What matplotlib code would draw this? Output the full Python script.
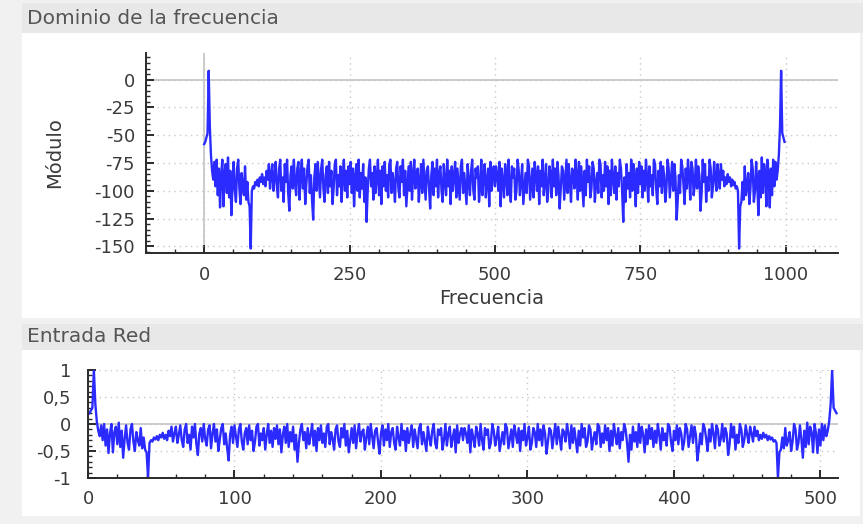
import numpy as np
import matplotlib
matplotlib.use("Agg")
import matplotlib.pyplot as plt
from matplotlib.patches import Rectangle
from matplotlib.ticker import MultipleLocator, FuncFormatter

plt.rcParams['font.family'] = ['DejaVu Sans']
plt.rcParams['axes.unicode_minus'] = False

W, H = 863, 524

# modulo del espectro (dB), 512 muestras
modulo = [
    -58, -56, -52, -48, 8, -42, -68, -82, -90, -74, -96, -72, -104, -80, -115, -86,
    -72, -114, -84, -76, -102, -70, -106, -82, -122, -94, -74, -100, -110, -80, -72, -98,
    -112, -84, -96, -104, -78, -108, -92, -110, -114, -152, -100, -96, -98, -92, -95, -90,
    -96, -88, -92, -85, -94, -88, -96, -82, -90, -76, -98, -86, -76, -100, -88, -74,
    -96, -106, -80, -72, -100, -88, -110, -76, -92, -72, -102, -118, -86, -78, -98, -72,
    -94, -104, -80, -74, -108, -86, -72, -98, -80, -112, -94, -78, -72, -102, -86, -108,
    -126, -88, -76, -100, -74, -90, -106, -80, -72, -98, -110, -86, -78, -102, -74, -96,
    -82, -112, -98, -76, -72, -104, -86, -96, -78, -110, -88, -72, -100, -82, -106, -78,
    -94, -74, -102, -80, -114, -88, -76, -100, -72, -106, -84, -98, -76, -110, -88, -128,
    -100, -80, -72, -96, -84, -108, -78, -102, -88, -72, -104, -82, -112, -78, -96, -74,
    -100, -86, -106, -76, -72, -102, -84, -94, -110, -80, -74, -98, -106, -78, -92, -72,
    -104, -82, -114, -96, -78, -100, -74, -108, -86, -72, -98, -84, -80, -110, -92, -76,
    -102, -72, -90, -108, -82, -78, -98, -116, -86, -74, -104, -80, -96, -72, -106, -84,
    -78, -100, -110, -76, -92, -104, -72, -96, -82, -112, -78, -100, -86, -74, -106, -80,
    -94, -108, -78, -72, -102, -84, -98, -112, -76, -92, -104, -82, -72, -100, -108, -80,
    -88, -78, -110, -96, -72, -104, -86, -76, -106, -92, -80, -114, -74, -100, -86, -78,
    -96,
    -78, -86, -100, -74, -114, -80, -92, -106, -76, -86, -104, -72, -96, -110, -78, -88,
    -80, -108, -100, -72, -82, -104, -92, -76, -112, -98, -84, -102, -72, -78, -108, -94,
    -80, -106, -74, -86, -100, -78, -112, -82, -96, -72, -104, -92, -76, -110, -100, -78,
    -84, -106, -72, -96, -80, -104, -74, -86, -116, -98, -78, -82, -108, -90, -72, -102,
    -76, -92, -110, -80, -84, -98, -72, -86, -108, -74, -100, -78, -96, -114, -82, -104,
    -72, -92, -78, -106, -98, -74, -80, -110, -94, -84, -102, -72, -76, -106, -86, -100,
    -74, -96, -78, -112, -82, -104, -72, -88, -102, -78, -108, -84, -96, -72, -80, -100,
    -128, -88, -110, -76, -98, -84, -106, -72, -100, -76, -88, -114, -80, -102, -74, -94,
    -78, -106, -82, -100, -72, -88, -110, -78, -96, -86, -104, -72, -76, -98, -112, -82,
    -96, -74, -102, -78, -86, -110, -98, -72, -80, -106, -90, -74, -100, -76, -88, -126,
    -108, -86, -102, -72, -78, -94, -112, -80, -98, -72, -86, -108, -74, -80, -104, -94,
    -72, -98, -78, -86, -118, -102, -72, -92, -76, -110, -88, -100, -72, -80, -106, -96,
    -74, -88, -100, -76, -86, -98, -76, -90, -82, -96, -88, -94, -85, -92, -88, -96,
    -90, -95, -92, -98, -96, -100, -152, -114, -110, -92, -108, -78, -104, -96, -84, -112,
    -98, -72, -80, -110, -100, -74, -94, -122, -82, -106, -70, -102, -76, -84, -114, -72,
    -86, -115, -80, -104, -72, -96, -74, -90, -82, -68, -42, 8, -48, -52, -56,
]
fs = 1000

titulo_frecuencia = "Dominio de la frecuencia"
titulo_entrada = "Entrada Red"
xlabel_frecuencia = "Frecuencia"
ylabel_modulo = "Módulo"

m = np.array(modulo, dtype=float)
n = len(m)
frecuencia = np.arange(n) * fs / n
# entrada a la red: espectro normalizado a [-1, 1]
entrada_red = 2 * (m - m.min()) / (m.max() - m.min()) - 1
muestra = np.arange(n)


def box(x0, y0, x1, y1):
    return [x0 / W, 1 - y1 / H, (x1 - x0) / W, (y1 - y0) / H]


fig = plt.figure(figsize=(W / 100, H / 100), dpi=100, facecolor='#f1f1f1')

# fondos de los paneles y barras de titulo
for (x0, y0, x1, y1), c in [((22, 3, 863, 33), '#e8e8e8'),
                            ((22, 33, 860, 318), 'white'),
                            ((22, 324, 863, 350), '#e8e8e8'),
                            ((22, 350, 860, 516), 'white')]:
    l, b, w, h = box(x0, y0, x1, y1)
    fig.add_artist(Rectangle((l, b), w, h, transform=fig.transFigure,
                             facecolor=c, edgecolor='none', zorder=-5))

fig.text(27 / W, 1 - 18 / H, titulo_frecuencia, fontsize=14.5, color='#555555',
         ha='left', va='center')
fig.text(27 / W, 1 - 336 / H, titulo_entrada, fontsize=14.5, color='#555555',
         ha='left', va='center')

LINE = '#2b2bff'
SPINE = '#2a2a2a'


def style(ax):
    ax.set_facecolor('none')
    for s in ['top', 'right']:
        ax.spines[s].set_visible(False)
    for s in ['left', 'bottom']:
        ax.spines[s].set_color(SPINE)
        ax.spines[s].set_linewidth(1.4)
    ax.tick_params(which='both', direction='in', colors=SPINE, labelcolor='#3a3a3a',
                   labelsize=13)
    ax.tick_params(which='major', length=6, width=1.4)
    ax.tick_params(which='minor', length=3, width=1.0)
    ax.grid(True, which='major', color='#c8c8c8', linestyle=(0, (1, 3)), linewidth=1)
    ax.set_axisbelow(True)


# panel superior
ax1 = fig.add_axes(box(146, 53, 838, 253))
style(ax1)
ax1.axhline(0, color='#c4c4c4', lw=1.2, zorder=0)
ax1.axvline(0, color='#c4c4c4', lw=1.2, zorder=0)
ax1.plot(frecuencia, m, color=LINE, lw=1.7)
ax1.set_xlim(-100, 1090)
ax1.set_ylim(-156, 24)
ax1.xaxis.set_major_locator(MultipleLocator(250))
ax1.xaxis.set_minor_locator(MultipleLocator(50))
ax1.yaxis.set_major_locator(MultipleLocator(25))
ax1.yaxis.set_minor_locator(MultipleLocator(5))
ax1.tick_params(axis='x', pad=9)
ax1.tick_params(axis='y', pad=8)
ax1.set_xlabel(xlabel_frecuencia, fontsize=14, color='#3a3a3a', va='top')
ax1.xaxis.set_label_coords(0.5, -0.18)
ax1.set_ylabel(ylabel_modulo, fontsize=14, color='#3a3a3a')
ax1.yaxis.set_label_coords(-0.118, 0.5)

# panel inferior
ax2 = fig.add_axes(box(88, 370, 838, 478))
style(ax2)
ax2.axhline(0, color='#c4c4c4', lw=1.2, zorder=0)
ax2.plot(muestra, entrada_red, color=LINE, lw=1.7)
ax2.set_xlim(0, 512)
ax2.set_ylim(-1, 1)
ax2.xaxis.set_major_locator(MultipleLocator(100))
ax2.xaxis.set_minor_locator(MultipleLocator(20))
ax2.yaxis.set_major_locator(MultipleLocator(0.5))
ax2.yaxis.set_minor_locator(MultipleLocator(0.1))
ax2.yaxis.set_major_formatter(FuncFormatter(lambda v, p: ('%g' % v).replace('.', ',')))
ax2.tick_params(axis='x', pad=9)
ax2.tick_params(axis='y', pad=12)

fig.savefig('out.png', dpi=100, facecolor=fig.get_facecolor())
